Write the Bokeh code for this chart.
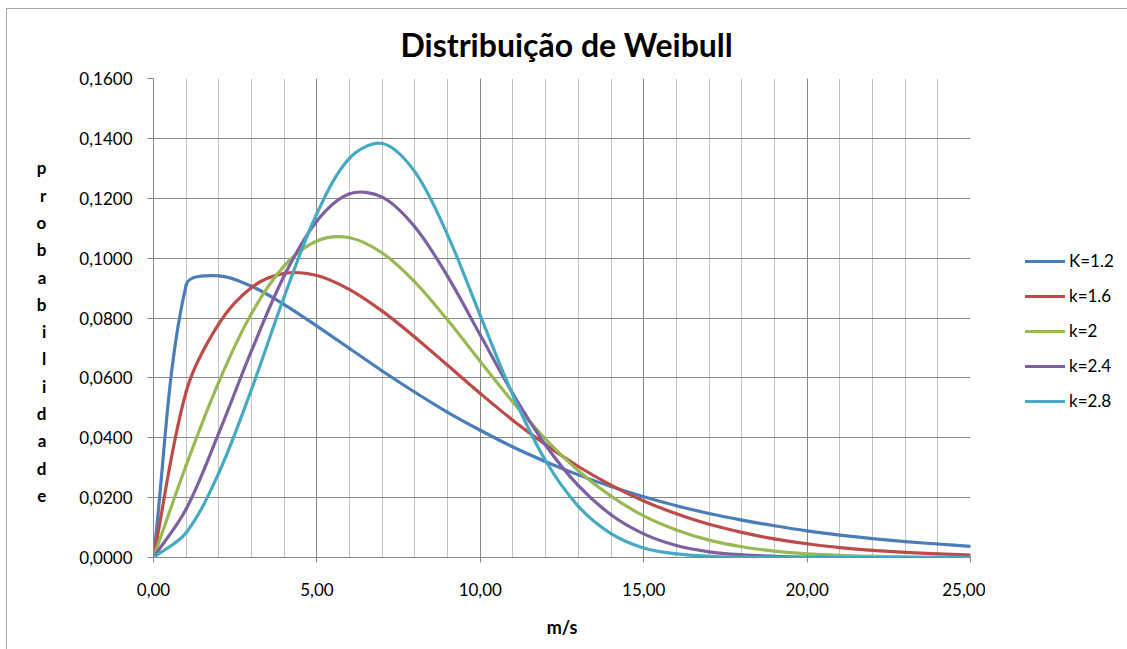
import numpy as np
from bokeh.plotting import figure
from bokeh.layouts import row
from bokeh.models import (Range1d, SingleIntervalTicker, CustomJSTickFormatter,
                          Legend, LegendItem)
from bokeh.embed import file_html
from bokeh.resources import INLINE

# ---------------- data ----------------
speed = list(range(26))  # m/s

series_labels = ["K=1.2", "k=1.6", "k=2", "k=2.4", "k=2.8"]

k12 = [0, 0.0911, 0.0941, 0.0906, 0.0845, 0.0773, 0.0698, 0.0623, 0.0552, 0.0485,
       0.0425, 0.0369, 0.0320, 0.0276, 0.0237, 0.0203, 0.0173, 0.0147, 0.0125,
       0.0106, 0.0089, 0.0075, 0.0063, 0.0053, 0.0045, 0.0037]
k16 = [0, 0.0554, 0.0781, 0.0902, 0.0949, 0.0942, 0.0895, 0.0823, 0.0736, 0.0642,
       0.0548, 0.0458, 0.0377, 0.0304, 0.0242, 0.0189, 0.0146, 0.0111, 0.0084,
       0.0062, 0.0046, 0.0033, 0.0024, 0.0017, 0.0012, 0.0008]
k20 = [0, 0.0308, 0.0587, 0.0815, 0.0974, 0.1057, 0.1068, 0.1017, 0.0920, 0.0793,
       0.0655, 0.0519, 0.0395, 0.0290, 0.0205, 0.0139, 0.0092, 0.0058, 0.0036,
       0.0021, 0.0012, 0.0007, 0.0004, 0.0002, 0.0001, 0.0000]
k24 = [0, 0.0162, 0.0416, 0.0691, 0.0941, 0.1124, 0.1215, 0.1204, 0.1104, 0.0939,
       0.0743, 0.0547, 0.0375, 0.0240, 0.0143, 0.0079, 0.0040, 0.0019, 0.0009,
       0.0004, 0.0001, 0.0000, 0.0000, 0.0000, 0.0000, 0.0000]
k28 = [0, 0.0083, 0.0283, 0.0562, 0.0871, 0.1149, 0.1334, 0.1383, 0.1288, 0.1077,
       0.0808, 0.0542, 0.0323, 0.0171, 0.0080, 0.0032, 0.0012, 0.0004, 0.0001,
       0.0000, 0.0000, 0.0000, 0.0000, 0.0000, 0.0000, 0.0000]

title_text = "Distribuição de Weibull"
x_label = "m/s"
y_label = "probabilidade"

colors = ["#4A7EBB", "#BE4B48", "#98B954", "#7D60A0", "#46AAC5"]
FONT = "Lato"
BORDER = "#a6a6a6"

X_MIN, X_MAX, Y_MIN, Y_MAX = 0, 25, 0, 0.16
FRAME_W, FRAME_H = 817, 479
MAIN_W, TOTAL_W, TOTAL_H = 985, 1127, 649

# ---------------- main figure ----------------
p = figure(width=MAIN_W, height=TOTAL_H, output_backend="svg", toolbar_location=None,
           x_range=Range1d(X_MIN, X_MAX), y_range=Range1d(Y_MIN, Y_MAX),
           min_border_left=153, min_border_right=MAIN_W - 153 - FRAME_W,
           min_border_top=78, min_border_bottom=TOTAL_H - 78 - FRAME_H)
p.outline_line_color = None
p.background_fill_color = "white"
p.border_fill_alpha = 0
p.styles = {
    "background": f"linear-gradient({BORDER},{BORDER}) 6px 8px / 1px 100% no-repeat, "
                  f"linear-gradient({BORDER},{BORDER}) 6px 8px / 100% 1px no-repeat, white"
}

# title
p.title.text = title_text
p.title.align = "left"
p.title.offset = 247
p.title.standoff = 30
p.title.text_font = FONT
p.title.text_font_size = "32px"
p.title.text_font_style = "bold"
p.title.text_color = "#000000"

# axes
p.xaxis.ticker = SingleIntervalTicker(interval=5, num_minor_ticks=5)
p.yaxis.ticker = SingleIntervalTicker(interval=0.02, num_minor_ticks=0)
p.xaxis.formatter = CustomJSTickFormatter(code="return tick.toFixed(2).replace('.', ',');")
p.yaxis.formatter = CustomJSTickFormatter(code="return tick.toFixed(4).replace('.', ',');")
for ax in (p.xaxis, p.yaxis):
    ax.axis_line_color = "#868686"
    ax.major_tick_line_color = "#868686"
    ax.minor_tick_line_color = None
    ax.major_tick_in = 0
    ax.major_label_text_font = FONT
    ax.major_label_text_font_size = "17px"
    ax.major_label_text_color = "#000000"
    ax.axis_label_text_font = FONT
    ax.axis_label_text_font_style = "bold"
    ax.axis_label_text_color = "#000000"
p.xaxis.major_tick_out = 5
p.yaxis.major_tick_out = 6
p.yaxis.major_label_standoff = 15
p.xaxis.major_label_standoff = 20

p.xaxis.axis_label = x_label
p.xaxis.axis_label_text_font_size = "18px"
p.xaxis.axis_label_standoff = 17

# stacked vertical y label (one letter per line; leading blank line lowers the block)
p.yaxis.axis_label = "\n".join(["\u00a0"] + list(y_label))
p.yaxis.axis_label_orientation = "horizontal"
p.yaxis.axis_label_text_font_size = "17px"
p.yaxis.axis_label_text_line_height = 1.3
p.yaxis.axis_label_text_align = "center"
p.yaxis.axis_label_standoff = 30

# grid
p.xgrid.grid_line_color = "#868686"
p.xgrid.minor_grid_line_color = "#c3c3c3"
p.ygrid.grid_line_color = "#868686"

# ---------------- smoothed lines (Excel-like smoothing through the points) ----------------
PX_X = FRAME_W / (X_MAX - X_MIN)
PX_Y = FRAME_H / (Y_MAX - Y_MIN)

def bezier_parts(xs, ys):
    # smoothing computed in screen space, tangent lengths scaled by chord length
    x = np.asarray(xs, dtype=float) * PX_X
    y = np.asarray(ys, dtype=float) * PX_Y
    n = len(x)
    L = np.hypot(np.diff(x), np.diff(y))
    mx = np.zeros(n); my = np.zeros(n)
    mx[1:-1] = x[2:] - x[:-2]; my[1:-1] = y[2:] - y[:-2]
    Lprev = np.concatenate([[0.0], L])
    Lnext = np.concatenate([L, [0.0]])
    tot = Lprev + Lnext
    tot[tot == 0] = 1.0
    fwd = Lnext / tot / 3.0
    bwd = Lprev / tot / 3.0
    cx0 = x[:-1] + mx[:-1] * fwd[:-1]
    cy0 = y[:-1] + my[:-1] * fwd[:-1]
    cx1 = x[1:] - mx[1:] * bwd[1:]
    cy1 = y[1:] - my[1:] * bwd[1:]
    cx0[0] = x[0] + (x[1] - x[0]) / 3.0; cy0[0] = y[0] + (y[1] - y[0]) / 3.0
    cx1[-1] = x[-1] - (x[-1] - x[-2]) / 3.0; cy1[-1] = y[-1] - (y[-1] - y[-2]) / 3.0
    return dict(x0=x[:-1] / PX_X, y0=y[:-1] / PX_Y, x1=x[1:] / PX_X, y1=y[1:] / PX_Y,
                cx0=cx0 / PX_X, cy0=cy0 / PX_Y, cx1=cx1 / PX_X, cy1=cy1 / PX_Y)

for ys, col in zip([k12, k16, k20, k24, k28], colors):
    p.bezier(**bezier_parts(speed, ys), line_color=col, line_width=3.2,
             line_cap="round", line_join="round")

# ---------------- legend panel (separate figure to the right of the chart) ----------------
q = figure(width=TOTAL_W - MAIN_W, height=TOTAL_H, output_backend="svg",
           toolbar_location=None, x_axis_location=None, y_axis_location=None,
           x_range=Range1d(0, 1), y_range=Range1d(0, 1),
           min_border=0, min_border_left=0, min_border_right=0,
           min_border_top=0, min_border_bottom=0)
q.title.visible = False
q.grid.visible = False
q.outline_line_color = None
q.background_fill_alpha = 0
q.border_fill_alpha = 0
q.styles = {
    "background": f"linear-gradient({BORDER},{BORDER}) 0px 8px / 100% 1px no-repeat, white"
}

items = []
for lab, col in zip(series_labels, colors):
    # legend key only: the point pair lies outside the visible range
    r = q.line(x=[-5, -4], y=[-5, -5], line_color=col, line_width=3.2, line_cap="round")
    items.append(LegendItem(label=lab, renderers=[r]))

legend = Legend(items=items, location=(40, 146), padding=0, margin=0,
                spacing=14, glyph_width=40, glyph_height=20, label_height=20,
                label_standoff=4, label_text_font=FONT, label_text_font_size="17px",
                label_text_color="#000000", border_line_color=None,
                background_fill_alpha=0)
q.add_layout(legend, "center")

layout = row(p, q, spacing=0)
open("out.html", "w").write(file_html(layout, INLINE))
